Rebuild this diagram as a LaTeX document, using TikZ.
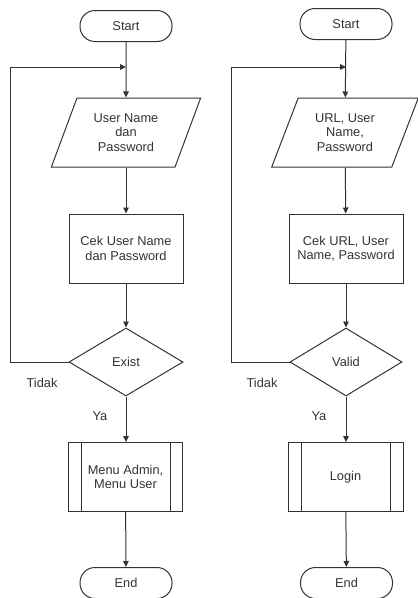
\documentclass[tikz,border=0pt]{standalone}
\usepackage{fontspec}
\setmainfont{Liberation Sans}
\usetikzlibrary{arrows.meta, shapes.geometric, positioning}

\tikzset{
  every node/.style={font=\fontsize{12.8}{14.5}\selectfont, text=black!80},
  terminal/.style={draw, rounded corners=15pt, minimum width=92pt, minimum height=31pt, inner sep=0pt},
  inputbox/.style={draw, trapezium, trapezium left angle=66, trapezium right angle=114,
    trapezium stretches=true, minimum width=150pt, minimum height=69pt, align=center, inner sep=0pt},
  procbox/.style={draw, minimum width=114pt, minimum height=69pt, align=center, inner sep=0pt},
  decision/.style={draw, diamond, minimum width=114pt, minimum height=68pt, inner sep=0pt},
  arr/.style={-{Triangle[length=6pt,width=5.5pt]}},
}

\begin{document}
\begin{tikzpicture}[x=1pt, y=-1pt, line width=1pt, draw=black!80]
\useasboundingbox (0,0) rectangle (418,598);

% kiri: login admin
\node[terminal] (start1) at (126,26) {Start};
\coordinate (j1) at (126,67);
\coordinate (back1) at (10,67);
\node[inputbox] (in1) at (126,132.5) {User Name\\dan\\Password};
\node[procbox] (cek1) at (126,248.5) {Cek User Name\\dan Password};
\node[decision] (dec1) at (126,362) {Exist};
\node[procbox] (menu1) at (125.5,477) {Menu Admin,\\Menu User};
\node[terminal] (end1) at (126,583) {End};
\node (tidak1) at (42,383) {Tidak};
\node (ya1) at (100,416) {Ya};

\draw ([xshift=13pt]menu1.north west) -- ([xshift=13pt]menu1.south west);
\draw ([xshift=-13pt]menu1.north east) -- ([xshift=-13pt]menu1.south east);

\draw[arr] (start1) -- (in1);
\draw[arr] (dec1.west) -| (back1) -- (j1);
\draw[arr] (in1) -- (cek1);
\draw[arr] (cek1) -- (dec1);
\draw[arr] (dec1) -- (dec1 |- menu1.north);
\draw[arr] (menu1) -- (end1);

% kanan: login user
\node[terminal] (start2) at (346,24) {Start};
\coordinate (j2) at (346,67);
\coordinate (back2) at (231,67);
\node[inputbox, minimum width=148pt] (in2) at (345,132.5) {URL, User\\Name,\\Password};
\node[procbox] (cek2) at (346,248.5) {Cek URL, User\\Name, Password};
\node[decision, minimum width=112pt] (dec2) at (346,362) {Valid};
\node[procbox, minimum width=115pt] (login2) at (345.5,477) {Login};
\node[terminal] (end2) at (346.5,583) {End};
\node (tidak2) at (262,383) {Tidak};
\node (ya2) at (319,416) {Ya};

\draw ([xshift=14pt]login2.north west) -- ([xshift=14pt]login2.south west);
\draw ([xshift=-13pt]login2.north east) -- ([xshift=-13pt]login2.south east);

\draw[arr] (start2) -- (in2);
\draw[arr] (dec2.west) -| (back2) -- (j2);
\draw[arr] (in2) -- (cek2);
\draw[arr] (cek2) -- (dec2);
\draw[arr] (dec2) -- (dec2 |- login2.north);
\draw[arr] (login2) -- (end2);
\end{tikzpicture}
\end{document}
